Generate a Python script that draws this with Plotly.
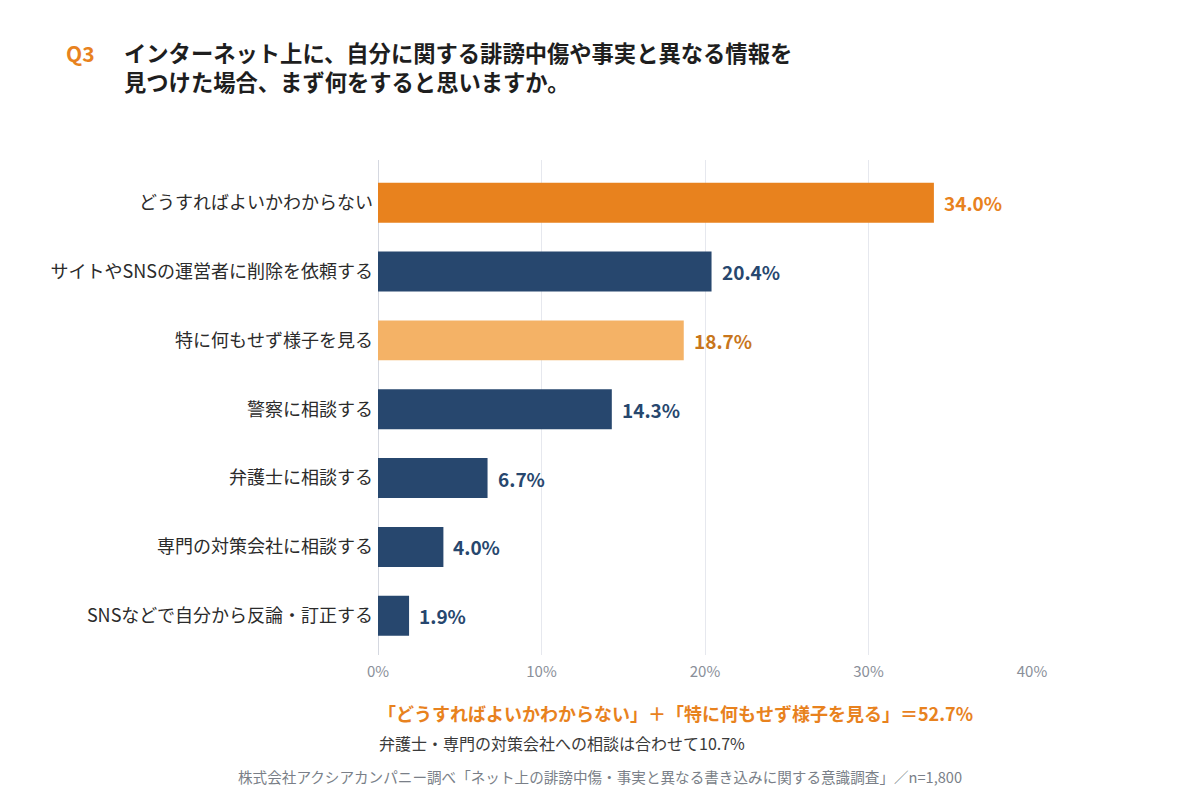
import plotly.graph_objects as go

categories = [
    "どうすればよいかわからない",
    "サイトやSNSの運営者に削除を依頼する",
    "特に何もせず様子を見る",
    "警察に相談する",
    "弁護士に相談する",
    "専門の対策会社に相談する",
    "SNSなどで自分から反論・訂正する",
]
values = [34.0, 20.4, 18.7, 14.3, 6.7, 4.0, 1.9]
bar_colors = ["#E8821E", "#27476E", "#F4B266", "#27476E", "#27476E", "#27476E", "#27476E"]
label_colors = ["#E8821E", "#27476E", "#C8761C", "#27476E", "#27476E", "#27476E", "#27476E"]
x_ticks = [0, 10, 20, 30, 40]
x_tick_labels = ["0%", "10%", "20%", "30%", "40%"]

FONT = "Noto Sans CJK JP"
OFF = 8  # page body margin offset

W, H = 1200, 800
l, r, t, b = 378 - OFF, 168 + OFF, 160 - OFF, 145 + OFF
pw, ph = W - l - r, H - t - b

fig = go.Figure()
fig.add_trace(go.Bar(
    y=categories,
    x=values,
    orientation="h",
    marker=dict(color=bar_colors, line=dict(width=0)),
    width=0.58,
    hoverinfo="skip",
))

annotations = []
for c, v, col in zip(categories, values, label_colors):
    annotations.append(dict(
        x=v, y=c, xref="x", yref="y", text=f"{v:.1f}%", showarrow=False,
        xanchor="left", yanchor="middle", xshift=8,
        font=dict(family=FONT, size=19, color=col, weight="bold"),
    ))


def px_ann(text, px, py, size, color, bold=False, xanchor="left", pad=1):
    f = dict(family=FONT, size=size, color=color)
    if bold:
        f["weight"] = "bold"
    return dict(text=text, xref="paper", yref="paper", showarrow=False,
                x=(px - OFF - l) / pw, y=(H - (py - OFF) - b) / ph,
                xanchor=xanchor, yanchor="middle", align="left", font=f, borderpad=pad)


annotations += [
    px_ann("Q3", 64, 53, 21, "#E8821E", True),
    px_ann("インターネット上に、自分に関する誹謗中傷や事実と異なる情報を<br>見つけた場合、まず何をすると思いますか。",
           123, 67, 22.3, "#1E1E1E", True, pad=0),
    px_ann("「どうすればよいかわからない」＋「特に何もせず様子を見る」＝52.7%", 376, 713, 18, "#E8821E", True),
    px_ann("弁護士・専門の対策会社への相談は合わせて10.7%", 377, 743, 16, "#3A3A3A"),
    px_ann("株式会社アクシアカンパニー調べ「ネット上の誹謗中傷・事実と異なる書き込みに関する意識調査」／n=1,800",
           600, 776, 14.6, "#7A7F88", xanchor="center"),
]

fig.update_layout(
    width=W,
    height=H,
    paper_bgcolor="white",
    plot_bgcolor="white",
    margin=dict(l=l, r=r, t=t, b=b),
    showlegend=False,
    font=dict(family=FONT),
    xaxis=dict(
        range=[0, 40],
        tickvals=x_ticks,
        ticktext=x_tick_labels,
        showgrid=True,
        gridcolor="#E6E8EE",
        gridwidth=1,
        zeroline=True,
        zerolinecolor="#D5D8E0",
        zerolinewidth=1,
        showline=False,
        tickfont=dict(family=FONT, size=15, color="#8A8F99"),
        ticks="",
        ticklabelstandoff=6,
        fixedrange=True,
    ),
    yaxis=dict(
        categoryorder="array",
        categoryarray=categories,
        range=[6.57, -0.62],
        showgrid=False,
        tickfont=dict(family=FONT, size=18, color="#2B2B2B"),
        ticks="",
        ticklabelstandoff=4,
        fixedrange=True,
    ),
    annotations=annotations,
)

fig.write_html("out.html")
